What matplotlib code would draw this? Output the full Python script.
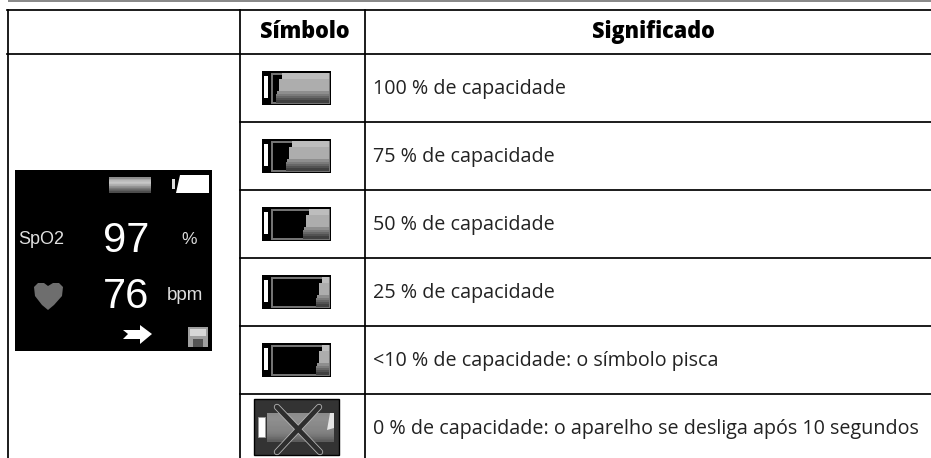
import numpy as np
import matplotlib
matplotlib.use("Agg")
import matplotlib.pyplot as plt
from matplotlib.patches import Rectangle, Polygon

header_symbol = "Símbolo"
header_meaning = "Significado"
meanings = ["100 % de capacidade", "75 % de capacidade", "50 % de capacidade",
            "25 % de capacidade", "<10 % de capacidade: o símbolo pisca",
            "0 % de capacidade: o aparelho se desliga após 10 segundos"]
# left edge of the emptied part of each battery icon, per shade band
fill_left = [282, 292, 309, 322, 322]
row_lines = [54, 122, 190, 258, 326, 394]
col_lines = [7.7, 240, 365.2]
band_y = [73, 79, 91, 94, 96, 98, 100, 103]
band_shade = ["#bdbdbd", "#adadad", "#8e8e8e", "#7a7a7a", "#666666", "#525252", "#404040"]
band_step = [0, 3, 5, 6, 6, 6, 6]

W, H = 931, 458
fig = plt.figure(figsize=(W / 100, H / 100), dpi=100)
ax = fig.add_axes([0, 0, 1, 1])
ax.set_xlim(0, W); ax.set_ylim(H, 0); ax.axis("off")
plt.rcParams["font.family"] = ["Open Sans", "DejaVu Sans"]

ax.add_patch(Rectangle((7.5, 0), W - 7.5, 2.3, fc="#8a8a8a", ec="none"))
lw = 1.25
ax.plot([7, W], [10.4, 10.4], color="k", lw=lw)
for y in row_lines:
    x0 = 7 if y == row_lines[0] else 240
    ax.plot([x0, W], [y, y], color="k", lw=lw)
for x in col_lines:
    ax.plot([x, x], [10, H], color="k", lw=lw)

ax.text(305, 38.5, header_symbol, ha="center", va="baseline", fontsize=15.6, fontweight=800, color="k")
ax.text(653.5, 38.5, header_meaning, ha="center", va="baseline", fontsize=15.6, fontweight=800, color="k")
for i, t in enumerate(meanings):
    ax.text(373, 94 + 68 * i, t, ha="left", va="baseline", fontsize=14.2, color="#222222")

# battery icons
for i, left in enumerate(fill_left):
    d = 68 * i
    ax.add_patch(Rectangle((262, 71 + d), 69, 33.5, fc="k", ec="none"))
    ax.add_patch(Rectangle((264, 76 + d), 4, 22, fc="w", ec="none"))
    ax.add_patch(Rectangle((272, 73.5 + d), 57, 29, fc="none", ec="#777777", lw=1.4))
    for j, shade in enumerate(band_shade):
        ax.add_patch(Rectangle((left - band_step[j], band_y[j] + d), 329 - left + band_step[j],
                               band_y[j + 1] - band_y[j], fc=shade, ec="none"))

# empty battery icon
ax.add_patch(Rectangle((253.5, 399), 85, 56, fc="#333333", ec="k", lw=1))
ax.add_patch(Rectangle((257.5, 417), 7.5, 20, fc="w", ec="#999999", lw=0.6))
ax.imshow(np.array([.55, .56, .56, .55, .54, .53, .52, .5, .47, .42, .36])[:, None],
          extent=(267, 334, 442, 413), cmap="gray", vmin=0, vmax=1, aspect="auto", zorder=2)
ax.add_patch(Polygon([[327, 430], [330, 413], [334, 413], [334, 428]], fc="#e5e5e5", ec="none", zorder=3))
for a, b in [((277, 407), (320, 452)), ((319, 407), (277, 452))]:
    ax.plot([a[0], b[0]], [a[1], b[1]], color="#b5b5b5", lw=4.6, solid_capstyle="round", zorder=4)
    ax.plot([a[0], b[0]], [a[1], b[1]], color="#2e2e2e", lw=3.4, solid_capstyle="round", zorder=5)

# device screen
ax.add_patch(Rectangle((15, 170), 197, 181, fc="k", ec="none", zorder=1))
ax.imshow(np.array([.55, .72, .78, .68, .55, .42, .3])[:, None], extent=(109, 151, 193, 177), cmap="gray",
          vmin=0, vmax=1, aspect="auto", zorder=2)
ax.add_patch(Rectangle((172, 179), 3, 10, fc="#dddddd", ec="none", zorder=2))
ax.add_patch(Polygon([[180, 175], [209, 175], [209, 193], [176, 193]], fc="w", ec="none", zorder=2))
ax.text(41, 244, "SpO2", color="#e0e0e0", fontsize=13, family="Liberation Sans", ha="center", va="baseline", zorder=3)
ax.text(126.5, 252, "97", color="w", fontsize=30, family="Liberation Sans", ha="center", va="baseline", zorder=3)
ax.text(189.5, 244, "%", color="#dddddd", fontsize=12.5, family="Liberation Sans", ha="center", va="baseline", zorder=3)
ax.text(126.5, 308, "76", color="w", fontsize=30, family="Liberation Sans", ha="center", va="baseline", zorder=3)
ax.text(185, 300.5, "bpm", color="#dddddd", fontsize=13.5, family="Liberation Sans", ha="center", va="baseline", zorder=3)
ax.add_patch(Polygon([[34, 287], [38, 283], [44, 283], [48, 286], [53, 283], [59, 283], [63, 287],
                      [62, 296], [54, 305], [48, 310], [42, 305], [35, 296]], fc="#6e6e6e", ec="none", zorder=3))
ax.add_patch(Polygon([[123, 330], [140, 330], [140, 325], [152, 334], [140, 344], [140, 339], [123, 339], [128, 334]],
                     fc="w", ec="none", zorder=3))
ax.add_patch(Rectangle((188, 327), 20, 20, fc="#a0a0a0", ec="none", zorder=3))
ax.add_patch(Rectangle((190, 329), 16, 7, fc="#d8d8d8", ec="none", zorder=4))
ax.add_patch(Rectangle((193, 339), 10, 8, fc="#555555", ec="none", zorder=4))
ax.set_xlim(0, W); ax.set_ylim(H, 0)
fig.savefig("out.png", dpi=100, facecolor="w")
